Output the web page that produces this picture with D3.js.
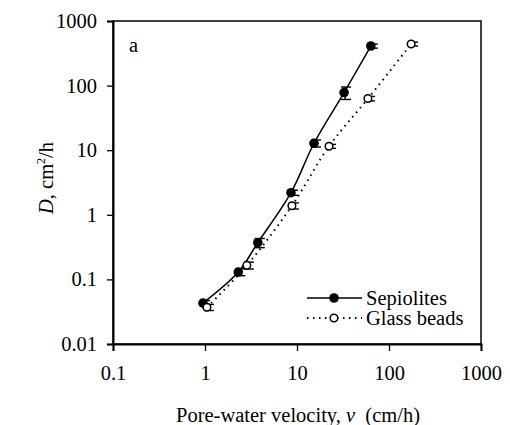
<!DOCTYPE html>
<html><head><meta charset="utf-8">
<script src="https://cdn.jsdelivr.net/npm/d3@7"></script>
<style>body{margin:0;background:#fff}svg{display:block}</style>
</head><body><div id="c"></div>
<script>
const sepV = [0.95, 2.3, 3.75, 8.6, 15.3, 32.5, 63.5];
const sepD = [0.043, 0.13, 0.37, 2.2, 12.8, 78, 410];
const sepErr = [0.004, 0.016, 0.06, 0.2, 1.6, 17, 30];
const glassV = [1.05, 2.85, 8.8, 22.3, 59, 174];
const glassD = [0.037, 0.165, 1.38, 11.5, 63, 440];
const glassErr = [0.004, 0.02, 0.15, 0.8, 5, 30];
const xTicks = [0.1, 1, 10, 100, 1000];
const yTicks = [0.01, 0.1, 1, 10, 100, 1000];
const seriesNames = ["Sepiolites", "Glass beads"];

const FONT = '"Liberation Serif", "Times New Roman", Times, "Nimbus Roman", "DejaVu Serif", serif';
const FS = 20.5;
const W = 510, H = 425;
const L = 113, R = 481, T = 21, B = 344;
const svg = d3.select("#c").append("svg").attr("width", W).attr("height", H)
  .attr("font-family", FONT);
const x = d3.scaleLog().domain([0.1, 1000]).range([L, R]);
const y = d3.scaleLog().domain([0.01, 1000]).range([B, T]);
const fmt = d => String(d);

svg.append("rect").attr("x", L).attr("y", T).attr("width", R - L).attr("height", B - T)
  .attr("fill", "none").attr("stroke", "#000").attr("stroke-width", 1.5);

const xa = svg.append("g").attr("transform", `translate(0,${B})`)
  .call(d3.axisBottom(x).tickValues(xTicks).tickFormat(fmt).tickSize(7).tickPadding(14));
const ya = svg.append("g").attr("transform", `translate(${L},0)`)
  .call(d3.axisLeft(y).tickValues(yTicks).tickFormat(fmt).tickSize(6).tickPadding(10));
[xa, ya].forEach(a => {
  a.attr("font-family", FONT).attr("font-size", FS);
  a.select(".domain").attr("stroke", "#000").attr("stroke-width", 2);
  a.selectAll(".tick line").attr("stroke", "#000").attr("stroke-width", 1.3);
  a.selectAll(".tick text").attr("fill", "#000");
});

const line = d3.line().x(d => x(d[0])).y(d => y(d[1])).curve(d3.curveCatmullRom.alpha(0.5));
svg.append("path").attr("d", line(sepV.map((v, i) => [v, sepD[i]])))
  .attr("fill", "none").attr("stroke", "#000").attr("stroke-width", 1.5);
svg.append("path").attr("d", line(glassV.map((v, i) => [v, glassD[i]])))
  .attr("fill", "none").attr("stroke", "#000").attr("stroke-width", 2)
  .attr("stroke-dasharray", "1.5,4.5");

function errBars(vs, ds, es) {
  const g = svg.append("g").attr("stroke", "#000").attr("stroke-width", 1.4);
  vs.forEach((v, i) => {
    const cx = x(v), y1 = y(ds[i] + es[i]), y2 = y(Math.max(ds[i] - es[i], 1e-4));
    g.append("line").attr("x1", cx + 1).attr("x2", cx + 1).attr("y1", y1).attr("y2", y2);
    g.append("line").attr("x1", cx - 3).attr("x2", cx + 7).attr("y1", y1).attr("y2", y1);
    g.append("line").attr("x1", cx - 3).attr("x2", cx + 7).attr("y1", y2).attr("y2", y2);
  });
}
errBars(sepV, sepD, sepErr);
errBars(glassV, glassD, glassErr);

svg.append("g").selectAll("circle").data(sepV).join("circle")
  .attr("cx", d => x(d)).attr("cy", (d, i) => y(sepD[i])).attr("r", 4.8).attr("fill", "#000");
svg.append("g").selectAll("circle").data(glassV).join("circle")
  .attr("cx", d => x(d)).attr("cy", (d, i) => y(glassD[i])).attr("r", 3.8)
  .attr("fill", "#fff").attr("stroke", "#000").attr("stroke-width", 1.5);

const lg = svg.append("g");
lg.append("line").attr("x1", 307).attr("x2", 362).attr("y1", 298).attr("y2", 298)
  .attr("stroke", "#000").attr("stroke-width", 1.5);
lg.append("circle").attr("cx", 334).attr("cy", 298).attr("r", 4.8).attr("fill", "#000");
lg.append("text").attr("x", 366).attr("y", 305).attr("font-size", FS).text(seriesNames[0]);
lg.append("line").attr("x1", 307).attr("x2", 362).attr("y1", 318).attr("y2", 318)
  .attr("stroke", "#000").attr("stroke-width", 2).attr("stroke-dasharray", "1.5,4.5");
lg.append("circle").attr("cx", 334).attr("cy", 318).attr("r", 3.8)
  .attr("fill", "#fff").attr("stroke", "#000").attr("stroke-width", 1.5);
lg.append("text").attr("x", 366).attr("y", 325).attr("font-size", FS).text(seriesNames[1]);

svg.append("text").attr("x", 129).attr("y", 52).attr("font-size", FS).text("a");

const xt = svg.append("text").attr("x", 298).attr("y", 422).attr("text-anchor", "middle").attr("font-size", FS);
xt.append("tspan").text("Pore-water velocity, ");
xt.append("tspan").attr("font-style", "italic").text("v");
xt.append("tspan").text("\u00a0 (cm/h)");

const yt = svg.append("text").attr("transform", "translate(53,178) rotate(-90)")
  .attr("text-anchor", "middle").attr("font-size", FS);
yt.append("tspan").attr("font-style", "italic").text("D");
yt.append("tspan").text(", cm");
yt.append("tspan").attr("font-size", 12).attr("dy", -8).text("2");
yt.append("tspan").attr("dy", 8).text("/h");
</script></body></html>
